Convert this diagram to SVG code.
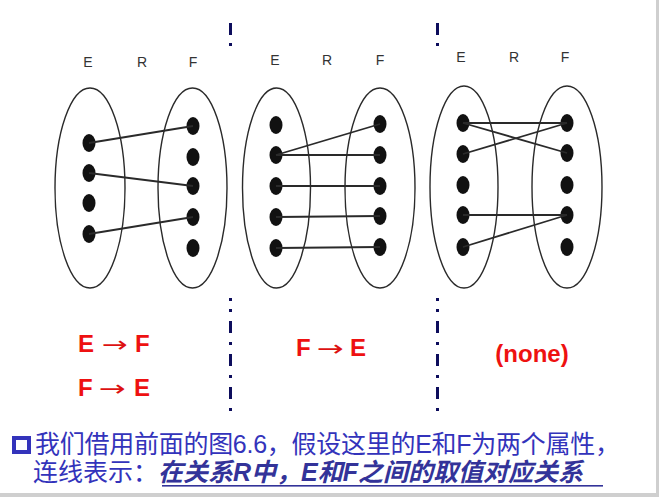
<svg xmlns="http://www.w3.org/2000/svg" width="659" height="497" viewBox="0 0 659 497">
<style>
.set{fill:none;stroke:#2a2a2a;stroke-width:1.4}
.dot{fill:#111}
.lbl{font-family:"Liberation Sans",Arial,sans-serif;font-size:14px;fill:#333}
.con{stroke:#2a2a2a;stroke-width:1.8;fill:none}
.dd{fill:#0d0d5c}
.red{font-family:"Liberation Sans",Arial,sans-serif;font-size:24px;font-weight:bold;fill:#ee1111}
.arr{font-family:"DejaVu Sans","Liberation Sans",sans-serif;font-size:22px;fill:#dd1111}
.cn{font-family:"Liberation Sans","Noto Sans CJK SC",sans-serif;font-size:25px;fill:#3333bb}
.em{font-weight:bold;font-style:italic;fill:#333399}
</style>
<rect width="659" height="497" fill="#ffffff"/>
<rect x="656" y="0" width="3" height="497" fill="#cfcfcf"/>
<rect x="0" y="493" width="659" height="4" fill="#cfcfcf"/>

<!-- dash-dot separators -->
<g id="separators">
  <rect class="dd" x="229" y="23" width="3" height="12"/><rect class="dd" x="229" y="43" width="3" height="3"/>
  <rect class="dd" x="229" y="298" width="3" height="3"/><rect class="dd" x="229" y="309" width="3" height="3"/>
  <rect class="dd" x="229" y="321" width="3" height="12"/><rect class="dd" x="229" y="342" width="3" height="3"/>
  <rect class="dd" x="229" y="354" width="3" height="12"/><rect class="dd" x="229" y="375" width="3" height="3"/>
  <rect class="dd" x="229" y="387" width="3" height="12"/><rect class="dd" x="229" y="408" width="3" height="3"/>
  <rect class="dd" x="436" y="23" width="3" height="12"/><rect class="dd" x="436" y="43" width="3" height="3"/>
  <rect class="dd" x="436" y="298" width="3" height="3"/><rect class="dd" x="436" y="309" width="3" height="3"/>
  <rect class="dd" x="436" y="321" width="3" height="12"/><rect class="dd" x="436" y="342" width="3" height="3"/>
  <rect class="dd" x="436" y="354" width="3" height="12"/><rect class="dd" x="436" y="375" width="3" height="3"/>
  <rect class="dd" x="436" y="387" width="3" height="12"/><rect class="dd" x="436" y="408" width="3" height="3"/>
</g>

<!-- Panel 1 -->
<g id="p1-labels" class="lbl" text-anchor="middle">
  <text x="88" y="67">E</text><text x="142" y="67">R</text><text x="193" y="67">F</text>
</g>
<g id="p1-E">
  <ellipse class="set" cx="90" cy="188" rx="35" ry="100"/>
  <ellipse class="dot" cx="89" cy="143" rx="6.5" ry="9"/>
  <ellipse class="dot" cx="89" cy="173" rx="6.5" ry="9"/>
  <ellipse class="dot" cx="89" cy="203" rx="6.5" ry="9"/>
  <ellipse class="dot" cx="89" cy="234" rx="6.5" ry="9"/>
</g>
<g id="p1-F">
  <ellipse class="set" cx="192.5" cy="188" rx="34.5" ry="100"/>
  <ellipse class="dot" cx="193" cy="126" rx="6.5" ry="9"/>
  <ellipse class="dot" cx="193" cy="157" rx="6.5" ry="9"/>
  <ellipse class="dot" cx="193" cy="186" rx="6.5" ry="9"/>
  <ellipse class="dot" cx="193" cy="217" rx="6.5" ry="9"/>
  <ellipse class="dot" cx="193" cy="248" rx="6.5" ry="9"/>
</g>

<!-- Panel 2 -->
<g id="p2-labels" class="lbl" text-anchor="middle">
  <text x="275" y="65">E</text><text x="327" y="65">R</text><text x="380" y="65">F</text>
</g>
<g id="p2-E">
  <ellipse class="set" cx="276.5" cy="188" rx="34" ry="100"/>
  <ellipse class="dot" cx="276" cy="125" rx="6.5" ry="9"/>
  <ellipse class="dot" cx="276" cy="155" rx="6.5" ry="9"/>
  <ellipse class="dot" cx="276" cy="186" rx="6.5" ry="9"/>
  <ellipse class="dot" cx="276" cy="217" rx="6.5" ry="9"/>
  <ellipse class="dot" cx="276" cy="248" rx="6.5" ry="9"/>
</g>
<g id="p2-F">
  <ellipse class="set" cx="380" cy="188" rx="35" ry="100"/>
  <ellipse class="dot" cx="380" cy="124" rx="6.5" ry="9"/>
  <ellipse class="dot" cx="380" cy="155" rx="6.5" ry="9"/>
  <ellipse class="dot" cx="380" cy="186" rx="6.5" ry="9"/>
  <ellipse class="dot" cx="380" cy="216" rx="6.5" ry="9"/>
  <ellipse class="dot" cx="380" cy="247" rx="6.5" ry="9"/>
</g>

<!-- Panel 3 -->
<g id="p3-labels" class="lbl" text-anchor="middle">
  <text x="461" y="62">E</text><text x="514" y="62">R</text><text x="565" y="62">F</text>
</g>
<g id="p3-E">
  <ellipse class="set" cx="464" cy="187" rx="34" ry="101"/>
  <ellipse class="dot" cx="463" cy="123" rx="6.5" ry="9"/>
  <ellipse class="dot" cx="463" cy="154" rx="6.5" ry="9"/>
  <ellipse class="dot" cx="463" cy="185" rx="6.5" ry="9"/>
  <ellipse class="dot" cx="463" cy="215" rx="6.5" ry="9"/>
  <ellipse class="dot" cx="463" cy="247" rx="6.5" ry="9"/>
</g>
<g id="p3-F">
  <ellipse class="set" cx="567" cy="187" rx="35" ry="101"/>
  <ellipse class="dot" cx="567" cy="123" rx="6.5" ry="9"/>
  <ellipse class="dot" cx="567" cy="153" rx="6.5" ry="9"/>
  <ellipse class="dot" cx="567" cy="185" rx="6.5" ry="9"/>
  <ellipse class="dot" cx="567" cy="215" rx="6.5" ry="9"/>
  <ellipse class="dot" cx="567" cy="247" rx="6.5" ry="9"/>
</g>

<g id="connectors" class="con">
  <line x1="89" y1="143" x2="193" y2="126"/>
  <line x1="89" y1="173" x2="193" y2="186"/>
  <line x1="89" y1="234" x2="193" y2="217"/>
  <line x1="276" y1="155" x2="380" y2="124"/>
  <line x1="276" y1="155" x2="380" y2="155"/>
  <line x1="276" y1="186" x2="380" y2="186"/>
  <line x1="276" y1="217" x2="380" y2="216"/>
  <line x1="276" y1="248" x2="380" y2="247"/>
  <line x1="463" y1="123" x2="567" y2="123"/>
  <line x1="463" y1="123" x2="567" y2="153"/>
  <line x1="463" y1="154" x2="567" y2="123"/>
  <line x1="463" y1="215" x2="567" y2="215"/>
  <line x1="463" y1="247" x2="567" y2="215"/>
</g>

<g id="fd-1">
  <text class="red" x="78" y="352">E</text><text class="arr" x="102" y="352" textLength="26" lengthAdjust="spacingAndGlyphs">→</text><text class="red" x="135" y="352">F</text>
  <text class="red" x="78" y="396">F</text><text class="arr" x="99" y="396" textLength="27" lengthAdjust="spacingAndGlyphs">→</text><text class="red" x="134" y="396">E</text>
</g>
<g id="fd-2">
  <text class="red" x="296" y="356">F</text><text class="arr" x="317" y="356" textLength="27" lengthAdjust="spacingAndGlyphs">→</text><text class="red" x="350" y="356">E</text>
</g>
<g id="fd-3">
  <text class="red" x="532" y="362" text-anchor="middle" font-size="25">(none)</text>
</g>

<g id="caption">
  <rect x="14" y="438" width="15" height="14" fill="none" stroke="#3333bb" stroke-width="4"/>
  <text class="cn" x="35" y="453" textLength="585" lengthAdjust="spacing">我们借用前面的图6.6，假设这里的E和F为两个属性，</text>
  <text class="cn" x="33" y="481">连线表示：<tspan class="em">在关系R中，E和F之间的取值对应关系</tspan></text>
  <rect x="162" y="485" width="441" height="1.6" fill="#333399"/>
</g>
</svg>
